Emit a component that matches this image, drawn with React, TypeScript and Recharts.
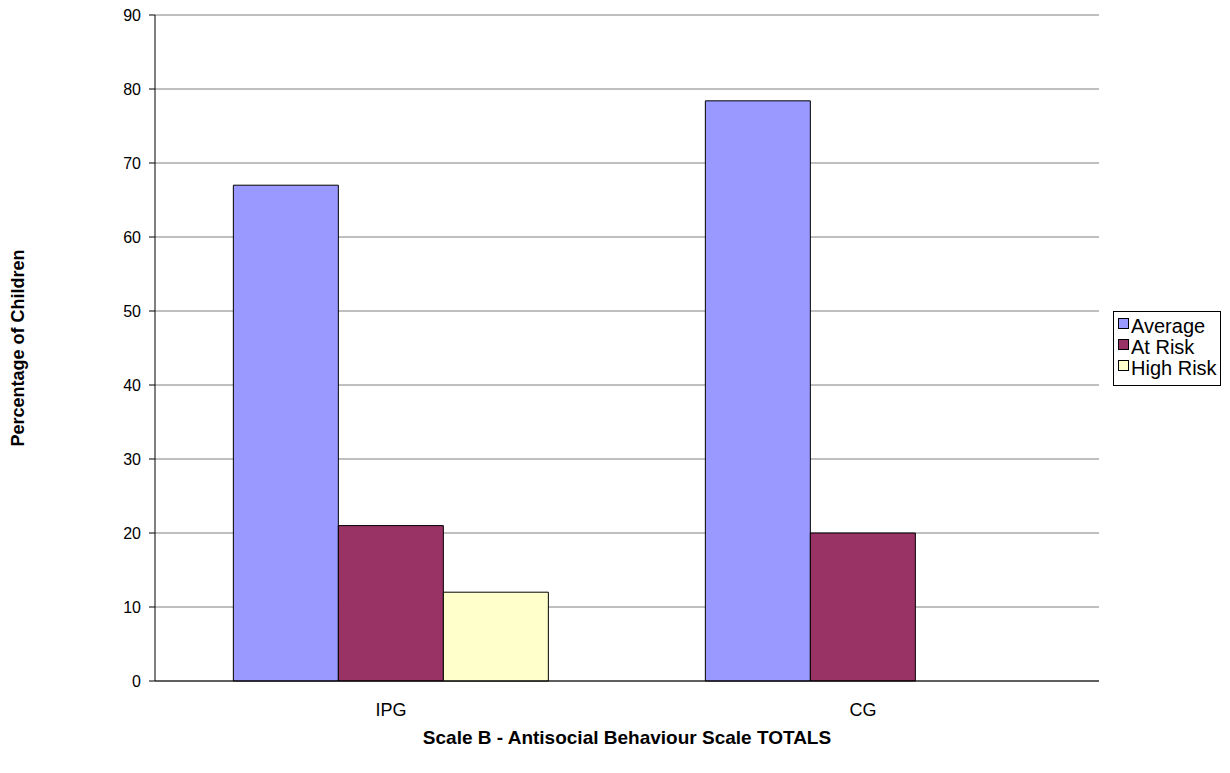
import {
  BarChart, Bar, XAxis, YAxis, CartesianGrid, Legend
} from "recharts"

const categories = ["IPG", "CG"]
const seriesNames = ["Average", "At Risk", "High Risk"]
const average = [67, 78.4]
const atRisk = [21, 20]
const highRisk = [12, 0]
const yTicks = [0, 10, 20, 30, 40, 50, 60, 70, 80, 90]
const edgeTicks = [0, 1, 2]

const data = categories.map((name, i) => ({
  name,
  average: average[i],
  atRisk: atRisk[i],
  highRisk: highRisk[i],
}))

const FONT = '"Liberation Sans", Arial, sans-serif'

const LegendBox = ({ payload }: any) => {
  const items = [...(payload || [])].sort(
    (a: any, b: any) => seriesNames.indexOf(a.value) - seriesNames.indexOf(b.value)
  )
  return (
    <div
      style={{
        border: "1px solid #000",
        background: "#fff",
        padding: "4px 3px 6px 4px",
        fontFamily: FONT,
        fontSize: 20,
        lineHeight: "21px",
        color: "#000",
      }}
    >
      {items.map((p: any) => (
        <div key={p.value} style={{ display: "flex", alignItems: "flex-start", whiteSpace: "nowrap" }}>
          <span
            style={{
              display: "inline-block",
              width: 9,
              height: 9,
              marginTop: 2,
              marginRight: 2,
              background: p.color,
              border: "1px solid #000",
            }}
          />
          <span>{p.value}</span>
        </div>
      ))}
    </div>
  )
}

const YTitle = ({ viewBox }: any) => {
  const x = viewBox.x + 18
  const y = viewBox.y + viewBox.height / 2
  return (
    <text
      x={x}
      y={y}
      transform={`rotate(-90, ${x}, ${y})`}
      textAnchor="middle"
      dominantBaseline="central"
      fontFamily={FONT}
      fontSize={18}
      fontWeight="bold"
      fill="#000"
    >
      Percentage of Children
    </text>
  )
}

export default function App() {
  return (
    <div style={{ position: "absolute", left: 0, top: 0, background: "#fff" }}>
      <BarChart
        width={1230}
        height={773}
        data={data}
        margin={{ top: 15, right: 131, bottom: 0, left: 0 }}
        barCategoryGap="16.6%"
        barGap={0}
      >
        <CartesianGrid vertical={false} stroke="#808080" yAxisId="left" />
        <XAxis
          xAxisId="edge"
          type="number"
          domain={[0, 2]}
          allowDataOverflow
          ticks={edgeTicks}
          height={0}
          tick={false}
          tickSize={6}
          axisLine={false}
          tickLine={{ stroke: "#000" }}
        />
        <XAxis
          xAxisId="cat"
          dataKey="name"
          height={92}
          tickLine={false}
          tickSize={0}
          tickMargin={22}
          axisLine={{ stroke: "#000" }}
          tick={{ fontFamily: FONT, fontSize: 18, fill: "#000" }}
          label={{
            value: "Scale B - Antisocial Behaviour Scale TOTALS",
            position: "insideBottom",
            offset: 29,
            style: { fontFamily: FONT, fontSize: 19, fontWeight: "bold", fill: "#000" },
          }}
        />
        <YAxis
          yAxisId="left"
          width={155}
          domain={[0, 90]}
          ticks={yTicks}
          interval={0}
          tickSize={6}
          tickMargin={8}
          axisLine={{ stroke: "#000" }}
          tickLine={{ stroke: "#000" }}
          tick={{ fontFamily: FONT, fontSize: 16, fill: "#000" }}
          label={{ content: <YTitle /> }}
        />
        <YAxis
          yAxisId="right"
          orientation="right"
          width={0}
          domain={[0, 90]}
          tick={false}
          tickLine={false}
          axisLine={{ stroke: "#808080" }}
        />
        <Legend
          layout="vertical"
          align="center"
          verticalAlign="middle"
          content={<LegendBox />}
          wrapperStyle={{ left: 1113, top: 311, width: "auto" }}
        />
        <Bar xAxisId="cat" yAxisId="left" dataKey="average" name={seriesNames[0]} fill="#9999FF" stroke="#000" strokeWidth={1} isAnimationActive={false} />
        <Bar xAxisId="cat" yAxisId="left" dataKey="atRisk" name={seriesNames[1]} fill="#993366" stroke="#000" strokeWidth={1} isAnimationActive={false} />
        <Bar xAxisId="cat" yAxisId="left" dataKey="highRisk" name={seriesNames[2]} fill="#FFFFCC" stroke="#000" strokeWidth={1} isAnimationActive={false} />
      </BarChart>
    </div>
  )
}
